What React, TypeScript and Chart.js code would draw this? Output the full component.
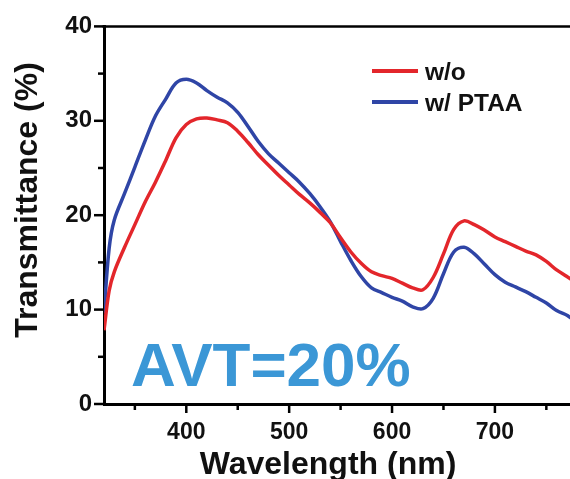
import React, { useEffect, useRef } from "react";
import { Chart, registerables } from "chart.js";

Chart.register(...registerables);

// ---- data ----
const wavelengths = [
  320, 325, 330, 340, 350, 360, 370, 380, 390, 400, 410, 420, 430, 440, 450, 460, 470, 480, 490, 500,
  510, 520, 530, 540, 550, 560, 570, 580, 590, 600, 610, 620, 630, 640, 650, 660, 670, 680, 690, 700,
  710, 720, 730, 740, 750, 760, 770, 774,
];
const transmittanceWo = [
  7.8, 12.0, 14.0, 16.6, 19.0, 21.4, 23.5, 25.8, 28.2, 29.6, 30.2, 30.3, 30.1, 29.8, 28.9, 27.7, 26.4, 25.3, 24.2, 23.2,
  22.2, 21.3, 20.3, 19.2, 17.6, 16.1, 14.9, 14.0, 13.6, 13.3, 12.8, 12.3, 12.1, 13.4, 15.9, 18.5, 19.4, 19.0, 18.4, 17.7,
  17.2, 16.7, 16.2, 15.8, 15.1, 14.2, 13.5, 13.2,
];
const transmittancePtaa = [
  9.6, 16.5, 19.5, 22.3, 25.1, 27.9, 30.5, 32.3, 34.0, 34.4, 34.0, 33.2, 32.5, 31.9, 30.9, 29.4, 27.8, 26.5, 25.5, 24.5,
  23.5, 22.3, 20.9, 19.3, 17.2, 15.2, 13.5, 12.3, 11.8, 11.3, 10.9, 10.3, 10.1, 11.2, 13.8, 16.1, 16.6, 15.9, 14.8, 13.7,
  12.9, 12.4, 11.9, 11.3, 10.7, 9.9, 9.4, 9.1,
];
const seriesLabels = ["w/o", "w/ PTAA"];
const seriesColors = ["#e3262b", "#2f45a6"];
const xTickValues = [350, 400, 450, 500, 550, 600, 650, 700, 750];
const xTickLabels = [400, 500, 600, 700];
const yTickValues = [0, 5, 10, 15, 20, 25, 30, 35, 40];
const yTickLabels = [0, 10, 20, 30, 40];
const xTitle = "Wavelength (nm)";
const yTitle = "Transmittance (%)";
const annotationText = "AVT=20%";

const FONT = '"Liberation Sans", Arial, sans-serif';

const overlayPlugin = {
  id: "overlay",
  afterDraw(chart: any) {
    const { ctx, chartArea, scales } = chart;
    const xs = scales.x;
    const ys = scales.y;
    ctx.save();
    ctx.strokeStyle = "#000";
    // top frame line
    ctx.lineWidth = 2.5;
    ctx.beginPath();
    ctx.moveTo(chartArea.left - 1.5, chartArea.top);
    ctx.lineTo(chartArea.right, chartArea.top);
    ctx.stroke();
    // ticks
    ctx.lineWidth = 2.5;
    xs.ticks.forEach((t: any) => {
      const major = xTickLabels.includes(t.value);
      const px = xs.getPixelForValue(t.value);
      ctx.beginPath();
      ctx.moveTo(px, chartArea.bottom);
      ctx.lineTo(px, chartArea.bottom + (major ? 9 : 6));
      ctx.stroke();
    });
    ys.ticks.forEach((t: any) => {
      const major = yTickLabels.includes(t.value);
      const py = ys.getPixelForValue(t.value);
      ctx.beginPath();
      ctx.moveTo(chartArea.left, py);
      ctx.lineTo(chartArea.left - (major ? 10 : 6), py);
      ctx.stroke();
    });
    // axis titles
    ctx.fillStyle = "#111";
    ctx.font = `bold 32px ${FONT}`;
    ctx.textAlign = "center";
    ctx.textBaseline = "alphabetic";
    ctx.fillText(xTitle, chartArea.left + 224, 474);
    ctx.save();
    ctx.translate(37, 200);
    ctx.rotate(-Math.PI / 2);
    ctx.fillText(yTitle, 0, 0);
    ctx.restore();
    // annotation
    ctx.fillStyle = "#3b97d6";
    ctx.font = `bold 62px ${FONT}`;
    ctx.textAlign = "left";
    ctx.fillText(annotationText, 131, 386);
    // legend
    const ds = chart.data.datasets;
    ctx.font = `bold 24.5px ${FONT}`;
    ctx.fillStyle = "#111";
    const rows = [71, 102];
    ds.forEach((d: any, i: number) => {
      ctx.strokeStyle = d.borderColor;
      ctx.lineWidth = 4;
      ctx.beginPath();
      ctx.moveTo(372, rows[i]);
      ctx.lineTo(418, rows[i]);
      ctx.stroke();
      ctx.fillText(d.label, 425, rows[i] + 8.5);
    });
    ctx.restore();
  },
};

export default function App() {
  const canvasRef = useRef<HTMLCanvasElement | null>(null);

  useEffect(() => {
    const canvas = canvasRef.current;
    if (!canvas) return;
    const series = [transmittanceWo, transmittancePtaa];
    const chart = new Chart(canvas, {
      type: "line",
      data: {
        datasets: series.map((vals, i) => ({
          label: seriesLabels[i],
          data: wavelengths.map((w, j) => ({ x: w, y: vals[j] })),
          borderColor: seriesColors[i],
          backgroundColor: seriesColors[i],
          borderWidth: 3.5,
          pointRadius: 0,
          tension: 0.35,
          fill: false,
        })),
      },
      options: {
        responsive: false,
        animation: false,
        events: [],
        layout: { padding: { top: 23, right: 0, bottom: 0, left: 0 } },
        plugins: { legend: { display: false }, tooltip: { enabled: false } },
        scales: {
          x: {
            type: "linear",
            min: 320,
            max: 773,
            afterFit: (s: any) => {
              s.height = 75;
            },
            afterBuildTicks: (s: any) => {
              s.ticks = xTickValues.map((v) => ({ value: v }));
            },
            grid: { drawOnChartArea: false, drawTicks: false },
            border: { display: true, color: "#000", width: 3 },
            ticks: {
              autoSkip: false,
              maxRotation: 0,
              padding: 15,
              color: "#111",
              font: { family: FONT, size: 23, weight: "bold" },
              callback: (v: any) => (xTickLabels.includes(v) ? String(v) : ""),
            },
          },
          y: {
            min: 0,
            max: 40,
            afterFit: (s: any) => {
              s.width = 104;
            },
            afterBuildTicks: (s: any) => {
              s.ticks = yTickValues.map((v) => ({ value: v }));
            },
            grid: { drawOnChartArea: false, drawTicks: false },
            border: { display: true, color: "#000", width: 3 },
            ticks: {
              autoSkip: false,
              padding: 12,
              color: "#111",
              font: { family: FONT, size: 24, weight: "bold" },
              callback: (v: any) => (yTickLabels.includes(v) ? String(v) : ""),
            },
          },
        },
      },
      plugins: [overlayPlugin],
    });
    return () => chart.destroy();
  }, []);

  return (
    <div style={{ position: "fixed", left: 0, top: 0, width: 570, height: 479, background: "#fff" }}>
      <canvas ref={canvasRef} width={570} height={479} style={{ display: "block" }} />
    </div>
  );
}
